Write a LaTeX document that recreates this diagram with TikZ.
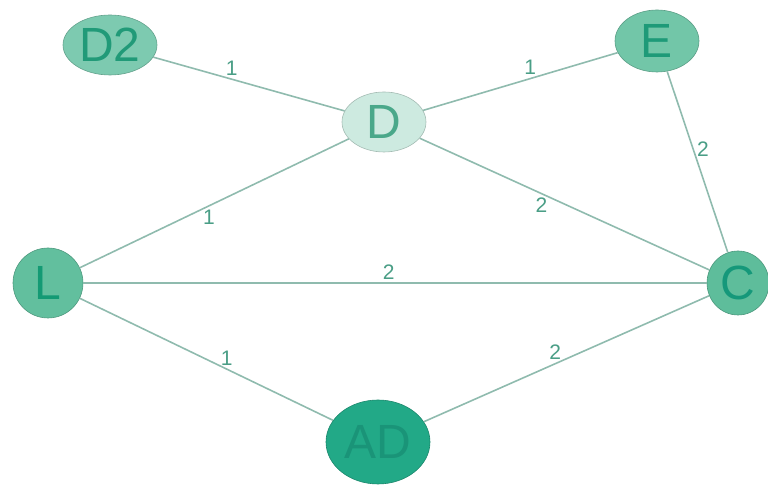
\documentclass[tikz,border=0pt]{standalone}
\usepackage{fontspec}
\setmainfont{Liberation Sans}
\usetikzlibrary{shapes.geometric}

\definecolor{edgecol}{HTML}{8FBBAE}
\definecolor{lblcol}{HTML}{4A9E86}
\definecolor{cDtwo}{HTML}{7DCAB0}
\definecolor{tDtwo}{HTML}{219A78}
\definecolor{cD}{HTML}{CDEAE0}
\definecolor{tD}{HTML}{4AA88A}
\definecolor{cE}{HTML}{72C6A8}
\definecolor{tE}{HTML}{1E9A78}
\definecolor{cL}{HTML}{62BF9E}
\definecolor{tL}{HTML}{139A74}
\definecolor{cC}{HTML}{5EBD9B}
\definecolor{tC}{HTML}{15987A}
\definecolor{cAD}{HTML}{22A987}
\definecolor{tAD}{HTML}{1A9478}

\begin{document}
\begin{tikzpicture}
[x=0.5pt,y=-0.5pt,
 vert/.style={ellipse,inner sep=0pt,fill=c#1,text=t#1,draw=c#1!80!black,line width=0.3pt,
   font=\fontsize{24}{24}\selectfont},
 wlbl/.style={inner sep=1.5pt,text=lblcol,font=\fontsize{10.5}{10.5}\selectfont}]

  \useasboundingbox (0,0) rectangle (768,485);

  \node[vert=Dtwo,minimum width=47pt,minimum height=30pt] (d2) at (110,45) {D2};
  \node[vert=D,minimum width=42pt,minimum height=30pt] (d) at (384,122) {D};
  \node[vert=E,minimum width=42pt,minimum height=31pt] (e) at (657,41) {E};
  \node[vert=L,minimum width=35pt,minimum height=35pt] (l) at (48,283) {L};
  \node[vert=C,minimum width=31pt,minimum height=32pt] (c) at (738,283) {C};
  \node[vert=AD,minimum width=52pt,minimum height=42pt] (ad) at (378,442) {AD};

  \foreach \from/\to/\w/\p/\side in {d2/d/1/0.41/above, d/e/1/0.55/above,
      e/c/2/0.43/right, d/l/1/0.52/below, d/c/2/0.42/below,
      l/c/2/0.49/above, l/ad/1/0.58/above, ad/c/2/0.46/above}
    \draw[edgecol,line width=0.8pt] (\from) -- node[wlbl,pos=\p,\side] {\w} (\to);

\end{tikzpicture}
\end{document}
